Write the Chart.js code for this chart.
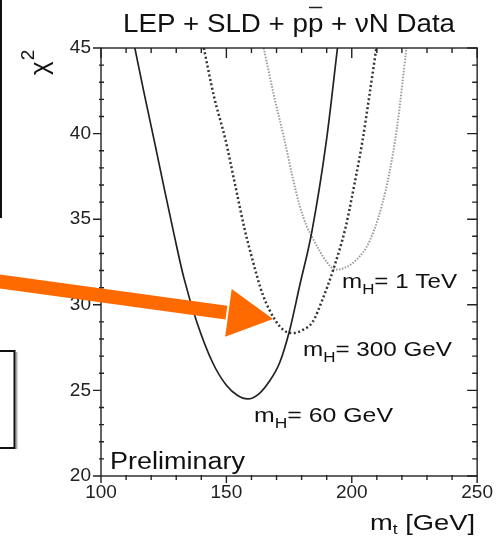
<!DOCTYPE html>
<html><head><meta charset="utf-8">
<script src="https://cdn.jsdelivr.net/npm/chart.js@4.4.0/dist/chart.umd.min.js"></script>
<style>html,body{margin:0;padding:0;background:#fff}#wrap{width:498px;height:545px}</style>
</head><body><div id="wrap"><canvas id="c" width="498" height="545"></canvas></div>
<script>
// ---- data ----
const xTickValues = [100, 150, 200, 250];
const yTickValues = [20, 25, 30, 35, 40, 45];
const mt60  = [113.5, 117, 121.5, 125.5, 129, 133, 138.2, 144.6, 150, 154.5, 158.5, 163, 167, 171.2, 175.2, 179.2, 184, 189.9, 194.3];
const chi60 = [45, 42.5, 39.4, 36.6, 34.2, 31.6, 29.0, 26.6, 25.3, 24.7, 24.5, 24.8, 25.5, 26.6, 28.5, 31.1, 34.2, 39.6, 45];
const mt300  = [141, 145, 149.7, 153.5, 157.3, 160.1, 164.5, 169.5, 173, 176.4, 180, 184.4, 188.3, 192.5, 197.5, 201, 204.3, 207, 209.8];
const chi300 = [45, 42.2, 39.6, 37.0, 34.4, 32.8, 30.6, 29.1, 28.5, 28.35, 28.5, 29.0, 30.3, 32.0, 34.5, 37.0, 39.6, 42.2, 45];
const mt1T  = [164.9, 169, 173.2, 176.5, 179.2, 182, 184.4, 187, 190, 193.5, 197, 200, 203, 206, 209, 212, 215, 218, 221.8];
const chi1T = [45, 42.2, 39.6, 37.4, 35.8, 34.6, 33.9, 33.2, 32.5, 32.05, 32.15, 32.4, 32.8, 33.4, 34.4, 35.8, 37.7, 40.3, 45];

const pts = (xs, ys) => xs.map((x, i) => ({x, y: ys[i]}));
const FONT = '"Liberation Sans", Arial, Helvetica, sans-serif';

function fitText(ctx, parts, x, y, targetW, align) {
  let w = 0;
  parts.forEach(p => { ctx.font = p.size + 'px ' + FONT; p.w = ctx.measureText(p.t).width; w += p.w; });
  const sx = targetW ? targetW / w : 1;
  const left = align === 'center' ? x - w * sx / 2 : x;
  ctx.save();
  ctx.translate(left, y);
  ctx.scale(sx, 1);
  let cx = 0;
  parts.forEach(p => { ctx.font = p.size + 'px ' + FONT; ctx.fillText(p.t, cx, p.dy || 0); p.x0 = cx; cx += p.w; });
  ctx.restore();
  return {sx, parts, x0: left};
}

const decor = {
  id: 'decor',
  beforeDraw(chart) {
    const ctx = chart.ctx;
    ctx.save();
    ctx.fillStyle = '#fff';
    ctx.fillRect(0, 0, chart.width, chart.height);
    ctx.strokeStyle = '#111';
    ctx.lineWidth = 2;
    ctx.beginPath();
    ctx.moveTo(1, 0); ctx.lineTo(1, 217); ctx.lineTo(-2, 217);
    ctx.stroke();
    ctx.strokeStyle = '#aaa';
    ctx.beginPath(); ctx.moveTo(16.5, 352); ctx.lineTo(16.5, 449); ctx.stroke();
    ctx.strokeStyle = '#111';
    ctx.beginPath();
    ctx.moveTo(-2, 351); ctx.lineTo(14.5, 351); ctx.lineTo(14.5, 448); ctx.lineTo(-2, 448);
    ctx.stroke();
    ctx.restore();
  },
  afterDraw(chart) {
    const ctx = chart.ctx;
    const xs = chart.scales.x, ys = chart.scales.y;
    const a = chart.chartArea;
    ctx.save();
    ctx.strokeStyle = '#222';
    ctx.lineWidth = 1.4;
    ctx.strokeRect(a.left, a.top, a.right - a.left, a.bottom - a.top);
    ctx.beginPath();
    for (let v = 100; v <= 250; v += 10) {
      const px = xs.getPixelForValue(v);
      const major = v % 50 === 0;
      ctx.moveTo(px, a.bottom - (major ? 0 : 1)); ctx.lineTo(px, a.bottom + (major ? 7 : 4));
      ctx.moveTo(px, a.top); ctx.lineTo(px, a.top + (major ? 10 : 5));
    }
    for (let v = 20; v <= 45; v += 1) {
      const py = ys.getPixelForValue(v);
      const major = v % 5 === 0;
      if (major) { ctx.moveTo(a.left - 8, py); ctx.lineTo(a.left, py); }
      else { ctx.moveTo(a.left - 2, py); ctx.lineTo(a.left + 3, py); }
      ctx.moveTo(a.right, py); ctx.lineTo(a.right - (major ? 10 : 5), py);
    }
    ctx.stroke();

    ctx.fillStyle = '#111';
    ctx.textBaseline = 'alphabetic';
    const t1 = fitText(ctx, [{t: 'LEP + SLD + p', size: 26}, {t: 'p', size: 26}, {t: ' + \u03bdN Data', size: 26}], 289, 32, 332, 'center');
    const pp = t1.parts[1];
    ctx.lineWidth = 1.5;
    ctx.beginPath();
    ctx.moveTo(t1.x0 + (pp.x0 + 1) * t1.sx, 7.5);
    ctx.lineTo(t1.x0 + (pp.x0 + pp.w - 1) * t1.sx, 7.5);
    ctx.stroke();

    ctx.save();
    ctx.translate(48, 75);
    ctx.rotate(-Math.PI / 2);
    ctx.font = '26px ' + FONT;
    ctx.fillText('\u03c7', 0, 0);
    const cw = ctx.measureText('\u03c7').width;
    ctx.font = '19px ' + FONT;
    ctx.fillText('2', cw + 1, -14);
    ctx.restore();

    fitText(ctx, [{t: 'm', size: 22}, {t: 't', size: 14, dy: 4}, {t: ' [GeV]', size: 22}], 370, 530, 105);

    fitText(ctx, [{t: 'm', size: 20}, {t: 'H', size: 14, dy: 6}, {t: '= 1 TeV', size: 20}], 342, 288, 115);
    fitText(ctx, [{t: 'm', size: 20}, {t: 'H', size: 14, dy: 6}, {t: '= 300 GeV', size: 20}], 303, 356, 149);
    fitText(ctx, [{t: 'm', size: 20}, {t: 'H', size: 14, dy: 6}, {t: '= 60 GeV', size: 20}], 254, 422, 139);
    fitText(ctx, [{t: 'Preliminary', size: 23}], 110, 469, 135);

    const x0 = 0, y0 = 281.5, x1 = 273, y1 = 319;
    const ang = Math.atan2(y1 - y0, x1 - x0);
    const L = Math.hypot(x1 - x0, y1 - y0);
    ctx.translate(x0, y0);
    ctx.rotate(ang);
    ctx.fillStyle = '#ff6a00';
    ctx.fillRect(-5, -7, L - 42, 14);
    ctx.beginPath();
    ctx.moveTo(L, 0);
    ctx.lineTo(L - 45, -24);
    ctx.lineTo(L - 45, 24);
    ctx.closePath();
    ctx.fill();
    ctx.restore();
  }
};

new Chart(document.getElementById('c'), {
  type: 'line',
  data: {
    datasets: [
      {label: 'mH=60 GeV', data: pts(mt60, chi60), borderColor: '#222', borderWidth: 1.7, pointRadius: 0, cubicInterpolationMode: 'monotone', fill: false},
      {label: 'mH=300 GeV', data: pts(mt300, chi300), borderColor: '#333', borderWidth: 2.5, borderDash: [2, 2.5], pointRadius: 0, cubicInterpolationMode: 'monotone', fill: false},
      {label: 'mH=1 TeV', data: pts(mt1T, chi1T), borderColor: '#9c9c9c', borderWidth: 2, borderDash: [1.5, 1.5], pointRadius: 0, cubicInterpolationMode: 'monotone', fill: false}
    ]
  },
  options: {
    responsive: false,
    animation: false,
    events: [],
    layout: {padding: {left: 41, right: 20, top: 48, bottom: 39}},
    plugins: {legend: {display: false}, tooltip: {enabled: false}, title: {display: false}},
    scales: {
      x: {
        type: 'linear', min: 100, max: 250,
        afterFit: s => { s.height = 30; },
        afterBuildTicks: s => { s.ticks = xTickValues.map(v => ({value: v})); },
        grid: {display: false, drawTicks: false}, border: {display: false},
        ticks: {padding: 5, color: '#222', font: {family: FONT, size: 19}, maxRotation: 0, autoSkip: false}
      },
      y: {
        type: 'linear', min: 20, max: 45,
        afterFit: s => { s.width = 60; },
        afterBuildTicks: s => { s.ticks = yTickValues.map(v => ({value: v})); },
        grid: {display: false, drawTicks: false}, border: {display: false},
        ticks: {padding: 10, color: '#222', font: {family: FONT, size: 19}, autoSkip: false}
      }
    }
  },
  plugins: [decor]
});
</script>
</body></html>
